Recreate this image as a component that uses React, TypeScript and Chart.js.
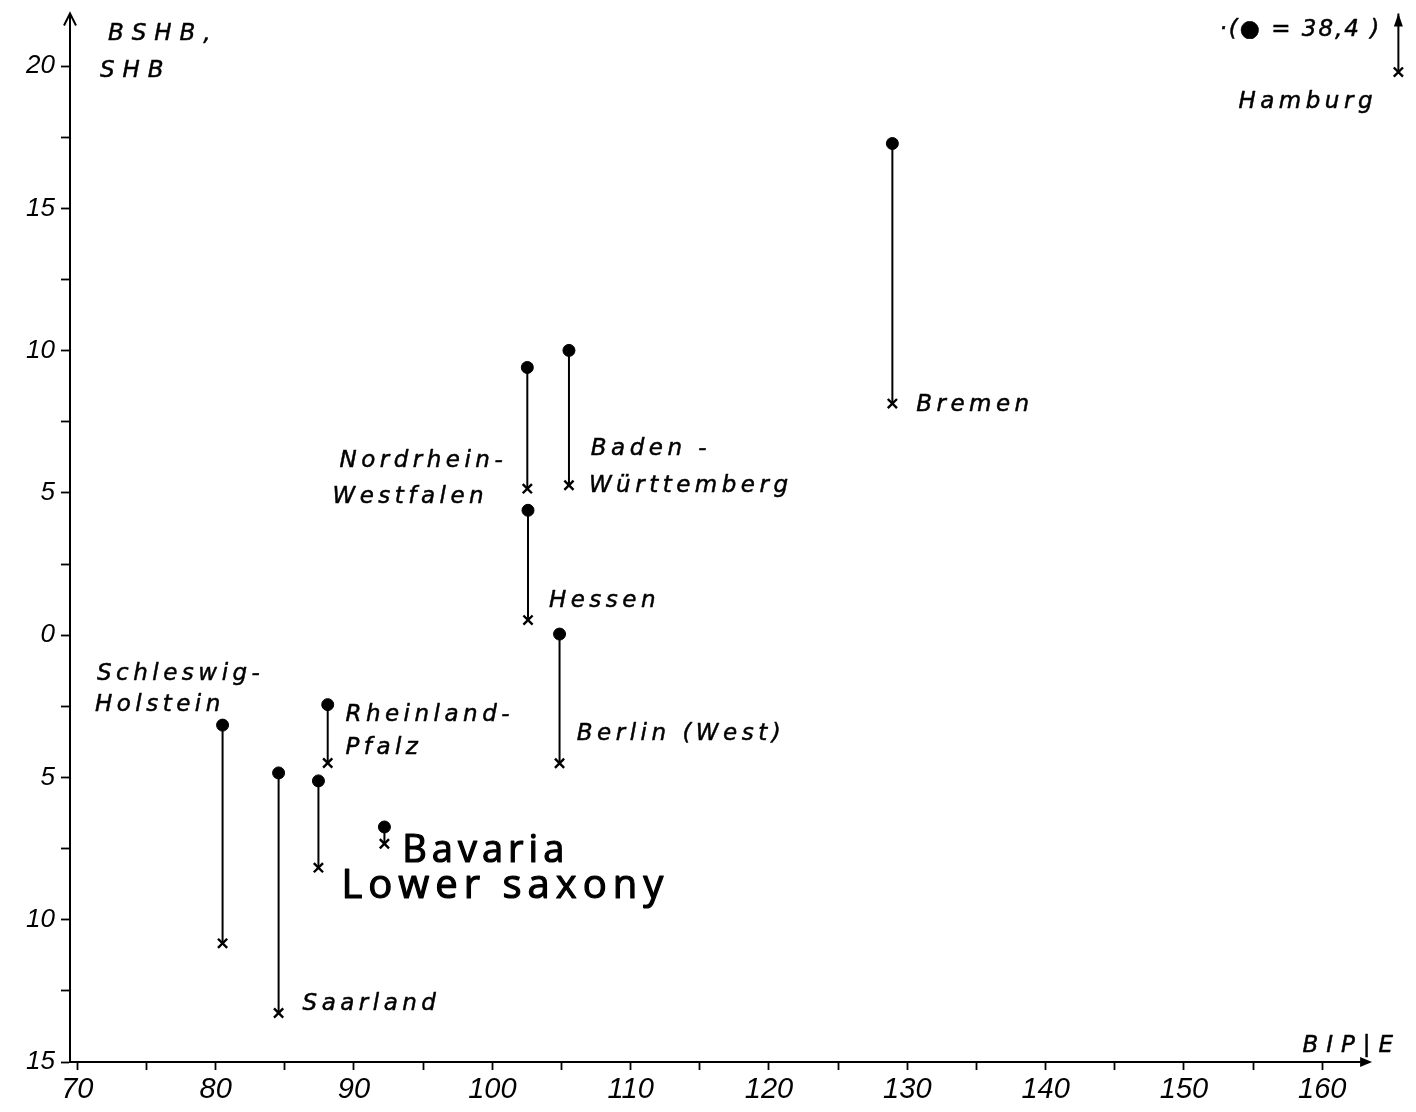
import React, { useEffect, useRef } from 'react';
import { Chart, registerables } from 'chart.js';

Chart.register(...registerables);

// ---- data ----
const states = [
  'Schleswig-Holstein', 'Saarland', 'Lower Saxony', 'Rheinland-Pfalz', 'Bavaria',
  'Nordrhein-Westfalen', 'Hessen', 'Berlin (West)', 'Baden-Württemberg', 'Bremen', 'Hamburg',
];
const bipPerE = [80.5, 84.55, 87.43, 88.1, 92.2, 102.53, 102.58, 104.86, 105.54, 128.92, 165.5];
const bshbValues = [-3.16, -4.84, -5.12, -2.44, -6.74, 9.41, 4.39, 0.04, 10.01, 17.28, 38.4];
const shbValues = [-10.83, -13.28, -8.17, -4.49, -7.33, 5.15, 0.53, -4.5, 5.27, 8.14, 19.79];

const xTickValues = [70, 80, 90, 100, 110, 120, 130, 140, 150, 160];
const xTickLabels = ['70', '80', '90', '100', '110', '120', '130', '140', '150', '160'];
const yTickValues = [20, 15, 10, 5, 0, -5, -10, -15];
const yTickLabels = ['20', '15', '10', '5', '0', '5', '10', '15'];

const xMin = 69.47;
const xMax = 166.13;
const xAxisEnd = 163.6;
const yMin = -15;
const yMax = 21.85;

// state labels: text, x value, y value (baseline)
const labelTexts = [
  'Schleswig-', 'Holstein', 'Saarland', 'Rheinland-', 'Pfalz',
  'Nordrhein-', 'Westfalen', 'Baden -', 'Württemberg', 'Hessen',
  'Berlin (West)', 'Bremen', 'Hamburg',
];
const labelX = [71.42, 71.27, 86.28, 89.38, 89.38, 88.95, 88.44, 107.12, 106.98, 104.09, 106.11, 130.64, 153.94];
const labelY = [-1.58, -2.67, -13.18, -3.02, -4.18, 5.9, 4.64, 6.32, 5.02, 0.98, -3.69, 7.87, 18.52];

// axis titles
const titleTexts = ['BSHB,', 'SHB', 'BIP|E'];
const titleX = [72.21, 71.63, 158.56];
const titleY = [20.91, 19.61, -14.65];

// Hamburg note
const noteText = '·(● = 38,4 )';
const noteX = 152.57;
const noteY = 21.05;

// handwritten annotations
const handTexts = ['Bavaria', 'Lower saxony'];
const handX = [93.49, 89.09];
const handY = [-7.98, -9.24];

const LABEL_FONT = 'italic 23px "DejaVu Sans"';
const HAND_FONTS = ['38px "Open Sans"', '40px "Open Sans"'];
const HAND_SPACING = ['5px', '6px'];

function inkText(ctx: CanvasRenderingContext2D, t: string, x: number, y: number, w: number) {
  ctx.fillText(t, x, y);
  ctx.lineWidth = w;
  ctx.strokeText(t, x, y);
}

const decorations = {
  id: 'decorations',
  afterDatasetsDraw(chart: any) {
    const { ctx, chartArea, scales } = chart;
    const xs = scales.x;
    const ys = scales.y;
    ctx.save();
    ctx.fillStyle = '#000';
    ctx.strokeStyle = '#000';
    const ax = chartArea.left;
    const top = chartArea.top;
    const ay = chartArea.bottom;
    const rx = xs.getPixelForValue(xAxisEnd);
    // x axis line
    ctx.lineWidth = 2;
    ctx.beginPath();
    ctx.moveTo(ax - 1, ay);
    ctx.lineTo(rx - 4, ay);
    ctx.stroke();
    // y axis open arrow head
    ctx.beginPath();
    ctx.moveTo(ax - 6, top + 12);
    ctx.lineTo(ax, top);
    ctx.lineTo(ax + 6, top + 12);
    ctx.stroke();
    // x axis filled arrow head
    ctx.beginPath();
    ctx.moveTo(rx, ay);
    ctx.lineTo(rx - 12, ay - 5);
    ctx.lineTo(rx - 12, ay + 5);
    ctx.closePath();
    ctx.fill();
    // Hamburg arrow (BSHB value is above the axis range)
    const hIdx = states.indexOf('Hamburg');
    const hx = xs.getPixelForValue(bipPerE[hIdx]);
    const hy = ys.getPixelForValue(yMax);
    ctx.beginPath();
    ctx.moveTo(hx, hy);
    ctx.lineTo(hx - 4.5, hy + 13);
    ctx.lineTo(hx + 4.5, hy + 13);
    ctx.closePath();
    ctx.fill();

    ctx.textAlign = 'left';
    ctx.textBaseline = 'alphabetic';
    ctx.lineJoin = 'round';
    // state labels
    ctx.font = LABEL_FONT;
    (ctx as any).letterSpacing = '4.5px';
    labelTexts.forEach((t, i) => {
      inkText(ctx, t, xs.getPixelForValue(labelX[i]), ys.getPixelForValue(labelY[i]), 0.5);
    });
    // axis titles
    (ctx as any).letterSpacing = '8px';
    titleTexts.forEach((t, i) => {
      inkText(ctx, t, xs.getPixelForValue(titleX[i]), ys.getPixelForValue(titleY[i]), 0.5);
    });
    // Hamburg note
    (ctx as any).letterSpacing = '2px';
    inkText(ctx, noteText, xs.getPixelForValue(noteX), ys.getPixelForValue(noteY), 0.5);
    // handwritten notes
    handTexts.forEach((t, i) => {
      ctx.font = HAND_FONTS[i];
      (ctx as any).letterSpacing = HAND_SPACING[i];
      inkText(ctx, t, xs.getPixelForValue(handX[i]), ys.getPixelForValue(handY[i]), 1.2);
    });
    ctx.restore();
  },
};

export default function App() {
  const canvasRef = useRef<HTMLCanvasElement | null>(null);

  useEffect(() => {
    if (!canvasRef.current) return;
    const datasets = states.map((name, i) => ({
      label: name,
      data: [
        { x: bipPerE[i], y: bshbValues[i] },
        { x: bipPerE[i], y: shbValues[i] },
      ],
      showLine: true,
      borderColor: '#000',
      backgroundColor: '#000',
      borderWidth: 2,
      pointStyle: ['circle', 'crossRot'],
      pointRadius: [6, 6.5],
      pointBorderWidth: [1, 2.4],
      pointBackgroundColor: '#000',
      pointBorderColor: '#000',
      clip: { left: false, top: 0, right: false, bottom: false },
    }));

    const chart = new Chart(canvasRef.current, {
      type: 'scatter',
      data: { datasets: datasets as any },
      options: {
        animation: false,
        responsive: true,
        maintainAspectRatio: false,
        events: [],
        layout: { padding: { top: 13.5, right: 6, bottom: 0, left: 0 } },
        plugins: { legend: { display: false }, tooltip: { enabled: false } },
        scales: {
          x: {
            type: 'linear',
            min: xMin,
            max: xMax,
            afterBuildTicks: (s: any) => { s.ticks = s.ticks.filter((t: any) => t.value <= xAxisEnd); },
            afterFit: (s: any) => { s.height = 50; s.paddingLeft = 0; s.paddingRight = 0; },
            border: { display: false },
            grid: { drawOnChartArea: false, drawTicks: true, tickLength: 8, tickColor: '#000', tickWidth: 1.8 },
            ticks: {
              stepSize: 5,
              includeBounds: false,
              autoSkip: false,
              maxRotation: 0,
              padding: 3,
              color: '#000',
              font: { family: '"Liberation Sans"', size: 29, style: 'italic' },
              callback: (v: any) => {
                const k = xTickValues.indexOf(Number(v));
                return k >= 0 ? xTickLabels[k] : '';
              },
            },
          },
          y: {
            type: 'linear',
            min: yMin,
            max: yMax,
            afterFit: (s: any) => { s.width = 70; s.paddingTop = 0; s.paddingBottom = 0; },
            border: { display: true, color: '#000', width: 2 },
            grid: { drawOnChartArea: false, drawTicks: true, tickLength: 9, tickColor: '#000', tickWidth: 1.8 },
            ticks: {
              stepSize: 2.5,
              includeBounds: false,
              autoSkip: false,
              padding: 6,
              color: '#000',
              font: { family: '"Liberation Sans"', size: 26, style: 'italic' },
              callback: (v: any) => {
                const k = yTickValues.indexOf(Number(v));
                return k >= 0 ? yTickLabels[k] : '';
              },
            },
          },
        },
      },
      plugins: [decorations],
    } as any);
    return () => chart.destroy();
  }, []);

  return (
    <div style={{ position: 'fixed', left: 0, top: 0, width: 1416, height: 1112, background: '#fff' }}>
      <canvas ref={canvasRef} />
    </div>
  );
}
